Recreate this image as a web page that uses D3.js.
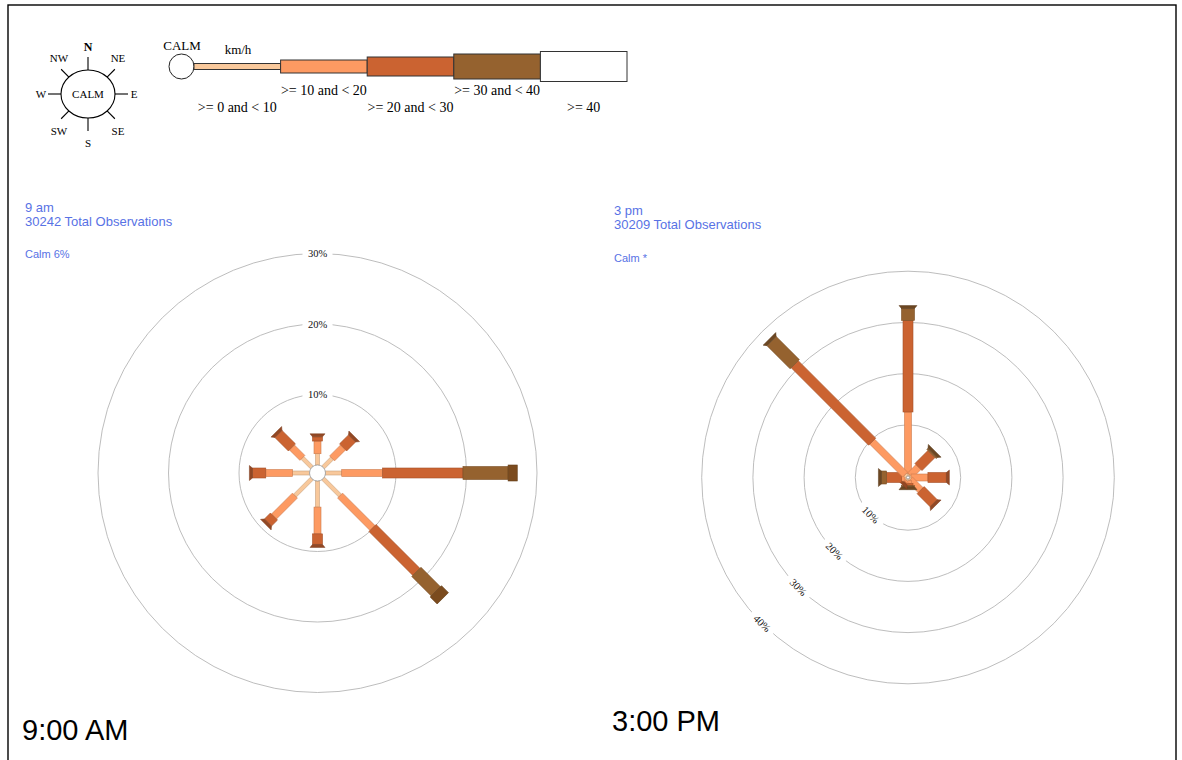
<!DOCTYPE html>
<html>
<head>
<meta charset="utf-8">
<script src="https://cdn.jsdelivr.net/npm/d3@7"></script>
<style>
  html, body { margin: 0; padding: 0; background: #fff; }
  svg { display: block; }
</style>
</head>
<body>
<script>
// ---- data ---------------------------------------------------------------
const directions = ["N", "NE", "E", "SE", "S", "SW", "W", "NW"];
const speedClasses = [">= 0 and < 10", ">= 10 and < 20", ">= 20 and < 30", ">= 30 and < 40", ">= 40"];
const compassPoints = ["N", "NE", "E", "SE", "S", "SW", "W", "NW"];

// frequency (%) per direction, columns = speed classes (km/h)
const nineAmFreq = [
  [1.6, 1.8, 0.6, 0.0, 0.0],   // N
  [1.8, 2.2, 1.8, 0.0, 0.0],   // NE
  [2.3, 5.8, 11.4, 6.4, 1.3],  // E
  [3.4, 6.5, 8.8, 3.9, 1.4],   // SE
  [3.7, 3.8, 1.5, 0.0, 0.0],   // S
  [3.4, 4.2, 1.2, 0.0, 0.0],   // SW
  [2.4, 3.8, 1.9, 0.0, 0.0],   // W
  [1.9, 2.1, 2.7, 0.0, 0.0]    // NW
];
const threePmFreq = [
  [0.5, 12.0, 17.9, 2.3, 0.0], // N
  [0.3, 2.3, 3.6, 0.3, 0.0],   // NE
  [0.3, 3.3, 3.6, 0.0, 0.0],   // E
  [0.3, 2.9, 3.6, 0.0, 0.0],   // SE
  [0.3, 0.6, 0.4, 0.2, 0.0],   // S
  [0.3, 0.4, 0.2, 0.0, 0.0],   // SW
  [0.3, 0.7, 2.9, 1.0, 0.0],   // W
  [0.5, 9.1, 21.4, 6.4, 0.0]   // NW
];
const nineAmRings = [10, 20, 30];
const threePmRings = [10, 20, 30, 40];
const nineAmInfo = ["9 am", "30242 Total Observations", "Calm 6%"];
const threePmInfo = ["3 pm", "30209 Total Observations", "Calm *"];
const panelLabels = ["9:00 AM", "3:00 PM"];

// ---- styling ------------------------------------------------------------
const armColors = ["#f8c89b", "#fd9a62", "#cb6331", "#95622f", "#7b4b1e"];
const legendColors = ["#f8c89b", "#fd9a62", "#cb6331", "#95622f", "#ffffff"];
const armWidths = [4, 7, 10, 13, 16];
const blue = "#5872e5";
const serif = "'Liberation Serif', 'Times New Roman', serif";
const sans = "'Liberation Sans', Arial, sans-serif";

const W = 1182, H = 760;
const svg = d3.select("body").append("svg").attr("width", W).attr("height", H);

// frame
svg.append("rect").attr("x", 8).attr("y", 5).attr("width", 1168).attr("height", 800)
  .attr("fill", "none").attr("stroke", "#000").attr("stroke-width", 1.4);

// ---- compass key ----------------------------------------------------------
const compass = svg.append("g").attr("transform", "translate(88,94)");
const crx = 27, cry = 24;
compass.append("ellipse").attr("rx", crx).attr("ry", cry)
  .attr("fill", "#fff").attr("stroke", "#000").attr("stroke-width", 1.1);
compass.append("text").attr("y", 3.5).attr("text-anchor", "middle")
  .attr("font-family", serif).attr("font-size", 11).text("CALM");
const compassLabelPos = {
  N: [0, -43], NE: [30, -32], E: [46, 4], SE: [30, 41],
  S: [0, 53], SW: [-29, 41], W: [-47, 4], NW: [-29, -32]
};
compassPoints.forEach((p, i) => {
  const a = i * Math.PI / 4;
  const sx = Math.sin(a), sy = -Math.cos(a);
  const x1 = crx * sx, y1 = cry * sy;
  const len = (i % 2 === 0) ? 13 : 11;
  compass.append("line")
    .attr("x1", x1).attr("y1", y1)
    .attr("x2", x1 + len * sx).attr("y2", y1 + len * sy)
    .attr("stroke", "#000").attr("stroke-width", 1.1);
  compass.append("text")
    .attr("x", compassLabelPos[p][0]).attr("y", compassLabelPos[p][1])
    .attr("text-anchor", "middle")
    .attr("font-family", serif).attr("font-size", p === "N" ? 12 : 11)
    .attr("font-weight", p === "N" ? "bold" : "normal")
    .text(p);
});

// ---- speed legend ---------------------------------------------------------
const legend = svg.append("g");
const legendX = d3.scaleBand().domain(speedClasses).range([194, 627]).paddingInner(0);
const legendH = [6, 13, 19, 25, 30];
const legendMid = 66.5;
legend.append("circle").attr("cx", 181.5).attr("cy", legendMid).attr("r", 12.5)
  .attr("fill", "#fff").attr("stroke", "#222").attr("stroke-width", 1);
legend.append("text").attr("x", 182).attr("y", 50).attr("text-anchor", "middle")
  .attr("font-family", serif).attr("font-size", 13).text("CALM");
legend.append("text").attr("x", 238).attr("y", 54).attr("text-anchor", "middle")
  .attr("font-family", serif).attr("font-size", 13).text("km/h");
speedClasses.forEach((c, i) => {
  legend.append("rect")
    .attr("x", legendX(c)).attr("y", legendMid - legendH[i] / 2)
    .attr("width", legendX.bandwidth()).attr("height", legendH[i])
    .attr("fill", legendColors[i]).attr("stroke", "#333").attr("stroke-width", 1);
  legend.append("text")
    .attr("x", legendX(c) + legendX.bandwidth() / 2)
    .attr("y", i % 2 === 1 ? 95 : 112)
    .attr("text-anchor", "middle")
    .attr("font-family", serif).attr("font-size", 14)
    .text(c);
});

// ---- wind rose --------------------------------------------------------------
function drawRose(opts) {
  const { cx, cy, calmR, pxPerPct, freq, rings, ringLabelAngle, info, infoX, infoY, calmY, label, labelX, labelY } = opts;
  const r = d3.scaleLinear().domain([0, 40]).range([calmR, calmR + 40 * pxPerPct]);
  const angle = d3.scaleBand().domain(directions).range([0, 360]).align(0).paddingInner(0);

  // header text
  svg.append("text").attr("x", infoX).attr("y", infoY).attr("fill", blue)
    .attr("font-family", sans).attr("font-size", 13).text(info[0]);
  svg.append("text").attr("x", infoX).attr("y", infoY + 14).attr("fill", blue)
    .attr("font-family", sans).attr("font-size", 13).text(info[1]);
  svg.append("text").attr("x", infoX).attr("y", calmY).attr("fill", blue)
    .attr("font-family", sans).attr("font-size", 11).text(info[2]);

  const g = svg.append("g").attr("transform", `translate(${cx},${cy})`);

  // rings
  g.selectAll("circle.ring").data(rings).join("circle").attr("class", "ring")
    .attr("r", d => r(d)).attr("fill", "none").attr("stroke", "#b5b5b5").attr("stroke-width", 0.9);

  // ring labels
  const rl = g.selectAll("g.rlab").data(rings).join("g").attr("class", "rlab")
    .attr("transform", d => {
      const a = ringLabelAngle * Math.PI / 180;
      const x = r(d) * Math.sin(a), y = -r(d) * Math.cos(a);
      const rot = ringLabelAngle === 0 ? 0 : ringLabelAngle - 180;
      return `translate(${x},${y}) rotate(${rot})`;
    });
  rl.append("rect").attr("x", -15).attr("y", -6).attr("width", 30).attr("height", 12).attr("fill", "#fff");
  rl.append("text").attr("text-anchor", "middle").attr("dy", "0.35em")
    .attr("font-family", serif).attr("font-size", 10.5).attr("fill", "#111")
    .text(d => d + "%");

  // arms
  directions.forEach((dir, i) => {
    const arm = g.append("g").attr("transform", `rotate(${angle(dir)})`);
    let cum = 0, last = -1;
    freq[i].forEach((v, c) => {
      if (v <= 0) return;
      const r1 = r(cum), r2 = r(cum + v);
      const fill = armColors[c];
      arm.append("rect")
        .attr("x", -armWidths[c] / 2).attr("y", -r2)
        .attr("width", armWidths[c]).attr("height", r2 - r1)
        .attr("fill", fill).attr("stroke", d3.color(fill).darker(0.6)).attr("stroke-width", 0.6);
      cum += v; last = c;
    });
    if (last >= 0 && last < 4) {
      const re = r(cum), hw = armWidths[last] / 2;
      const capFill = d3.color(armColors[last]).darker(0.9);
      arm.append("path")
        .attr("d", `M${-hw},${-re} L${hw},${-re} L${hw + 2.5},${-re - 3} L${-hw - 2.5},${-re - 3} Z`)
        .attr("fill", capFill).attr("stroke", capFill.darker(0.5)).attr("stroke-width", 0.5);
    }
  });

  // calm circle
  g.append("circle").attr("r", calmR).attr("fill", "#fff").attr("stroke", "#999").attr("stroke-width", 0.8);

  // panel caption
  svg.append("text").attr("x", labelX).attr("y", labelY)
    .attr("font-family", sans).attr("font-size", 29).attr("fill", "#000").text(label);
}

drawRose({
  cx: 317.5, cy: 473, calmR: 8, pxPerPct: 7.05, freq: nineAmFreq, rings: nineAmRings,
  ringLabelAngle: 0, info: nineAmInfo, infoX: 25, infoY: 212, calmY: 258,
  label: panelLabels[0], labelX: 22, labelY: 740
});
drawRose({
  cx: 908, cy: 477.5, calmR: 1.5, pxPerPct: 5.12, freq: threePmFreq, rings: threePmRings,
  ringLabelAngle: 225, info: threePmInfo, infoX: 614, infoY: 215, calmY: 262,
  label: panelLabels[1], labelX: 612, labelY: 731
});
</script>
</body>
</html>
